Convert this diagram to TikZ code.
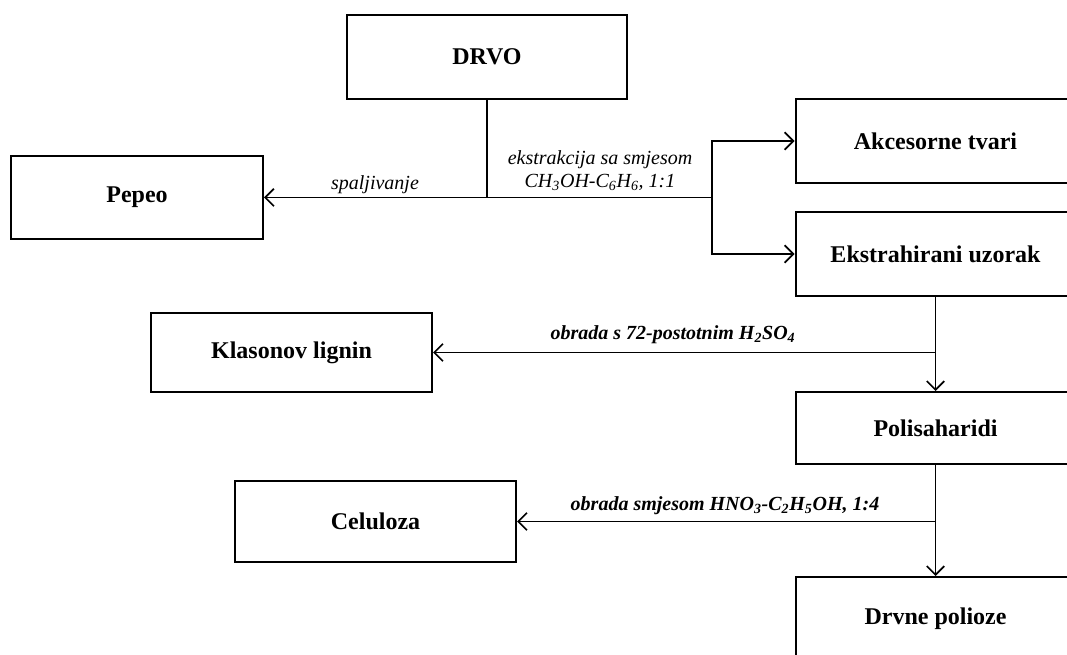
\documentclass[tikz,border=0pt]{standalone}
\usepackage{fontspec}
\setmainfont{Liberation Serif}
\usetikzlibrary{arrows.meta}
\begin{document}
\begin{tikzpicture}[x=0.75pt,y=-0.75pt,
  box/.style={draw,line width=1.5pt,inner sep=0pt,minimum width=210pt,minimum height=63pt,
    font=\fontsize{18}{21}\selectfont\bfseries},
  lab/.style={inner sep=0pt,align=center,font=\fontsize{15}{17.25}\selectfont\itshape},
  blab/.style={lab,font=\fontsize{15}{17.25}\selectfont\bfseries\itshape},
  conn/.style={line width=1.3pt},
  arr/.style={conn,-{Straight Barb[length=6.5pt,width=13pt,line width=1.3pt]}}]
\clip (0,0) rectangle (1067,655);
\node[box] (drvo) at (487,57) {DRVO};
\node[box,minimum width=189pt,minimum height=62.25pt] (pepeo) at (137,197.5) {Pepeo};
\node[box] (akc) at (935.5,141) {Akcesorne tvari};
\node[box] (eks) at (935.5,254) {Ekstrahirani uzorak};
\node[box,minimum width=210.75pt,minimum height=59.25pt] (klas) at (291.5,352.5) {Klasonov lignin};
\node[box,minimum height=54pt] (poli) at (935.5,428) {Polisaharidi};
\node[box,minimum width=210.75pt,minimum height=60.75pt] (cel) at (375.5,521.5) {Celuloza};
\node[box] (drvne) at (935.5,619) {Drvne polioze};

\node[lab] (l1) at (375,185) {spaljivanje};
\node[lab] (l2) at (600,171) {ekstrakcija sa smjesom\\CH\textsubscript{3}OH-C\textsubscript{6}H\textsubscript{6}, 1:1};
\node[blab] (l3) at (673,335) {obrada s 72-postotnim H\textsubscript{2}SO\textsubscript{4}};
\node[blab] (l4) at (725,506) {obrada smjesom HNO\textsubscript{3}-C\textsubscript{2}H\textsubscript{5}OH, 1:4};

\coordinate (j1) at (drvo.south |- pepeo.east);
\path (j1) ++(225,0) coordinate (j2);
\draw[conn] (drvo.south) -- (j1);
\draw[arr] (j1) -- (pepeo.east);
\draw[conn] (j1) -- (j2);
\draw[arr] (j2) |- (akc.west);
\draw[arr] (j2) |- (eks.west);
\coordinate (j3) at (eks.south |- klas.east);
\draw[arr] (eks.south) -- (poli.north);
\draw[arr] (j3) -- (klas.east);
\coordinate (j4) at (poli.south |- cel.east);
\draw[arr] (poli.south) -- (drvne.north);
\draw[arr] (j4) -- (cel.east);
\end{tikzpicture}
\end{document}
